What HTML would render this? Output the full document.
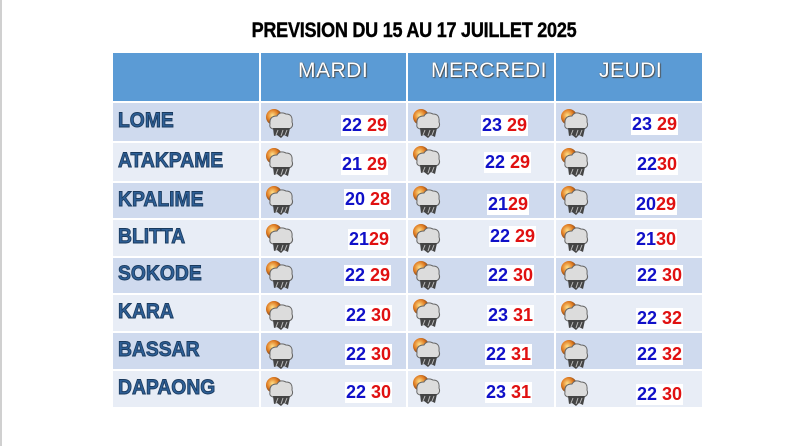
<!DOCTYPE html>
<html><head><meta charset="utf-8"><style>
body{margin:0;width:800px;height:446px;background:#fff;position:relative;overflow:hidden;font-family:"Liberation Sans",sans-serif}
.edge{position:absolute;left:0;top:0;width:2px;height:446px;background:#d0d0d0}
.title{position:absolute;left:0;width:828px;top:19px;text-align:center;font-weight:bold;font-size:21px;color:#000;transform:scaleX(0.86);transform-origin:414px 0;letter-spacing:-0.3px;-webkit-text-stroke:0.4px #000}
.hdr{position:absolute;top:53px;height:49px;background:#5b9bd5}
.hl{position:absolute;top:59px;font-size:21px;color:#fff;text-shadow:0 0 1px #333,1px 1px 1px #555;letter-spacing:0.5px}
.row{position:absolute;left:113px;width:589px}
.vl{position:absolute;top:53px;height:354px;width:2px;background:#fff}
.hz{position:absolute;left:113px;width:589px;height:2px;background:#fff}
.city{position:absolute;left:118px;font-weight:bold;font-size:21px;color:#2e5f96;-webkit-text-stroke:0.9px #1a3a5e;transform:scaleX(0.92);transform-origin:0 0}
.t{position:absolute;font-weight:bold;font-size:18px;background:#fff;padding:0 1px;line-height:21px}
.t b{color:#1010c8}.t i{font-style:normal;color:#e01010}
svg.ic{position:absolute;width:32px;height:32px}
</style></head><body>
<div class="edge"></div>
<div class="title">PREVISION DU 15 AU 17 JUILLET 2025</div>
<div class="hdr" style="left:113px;width:589px"></div>
<div class="hl" style="left:298px">MARDI</div>
<div class="hl" style="left:431px">MERCREDI</div>
<div class="hl" style="left:599px">JEUDI</div>
<div class="row" style="top:102px;height:40px;background:#cfdaee"></div>
<div class="row" style="top:142px;height:40px;background:#e8edf6"></div>
<div class="row" style="top:182px;height:37px;background:#cfdaee"></div>
<div class="row" style="top:219px;height:38px;background:#e8edf6"></div>
<div class="row" style="top:257px;height:37px;background:#cfdaee"></div>
<div class="row" style="top:294px;height:38px;background:#e8edf6"></div>
<div class="row" style="top:332px;height:38px;background:#cfdaee"></div>
<div class="row" style="top:370px;height:37px;background:#e8edf6"></div>
<div class="hz" style="top:101px"></div><div class="hz" style="top:141px"></div><div class="hz" style="top:181px"></div><div class="hz" style="top:218px"></div><div class="hz" style="top:256px"></div><div class="hz" style="top:293px"></div><div class="hz" style="top:331px"></div><div class="hz" style="top:369px"></div>
<div class="vl" style="left:259px"></div><div class="vl" style="left:406px"></div><div class="vl" style="left:554px"></div>
<svg width="0" height="0" style="position:absolute"><defs>
<radialGradient id="sun" cx="0.4" cy="0.4" r="0.6"><stop offset="0" stop-color="#ffe08a"/><stop offset="0.6" stop-color="#e07a20"/><stop offset="1" stop-color="#6a3a1a"/></radialGradient>
<g id="icon"><circle cx="10" cy="10" r="8" fill="url(#sun)"/><path d="M6 17 Q5 9 13 9 Q16 4 22 7 Q29 7 28 15 Q30 20 25 22 L9 22 Q5 21 6 17Z" fill="#dcdcdc" stroke="#666" stroke-width="1"/><path d="M9 21 L26 21 L24 30 L20 28 L17 31 L13 28 L10 29Z" fill="#444"/><path d="M14 23 L12 28 M19 23 L17 29 M23 23 L21 28" stroke="#bbb" stroke-width="1"/></g>
</defs></svg>
<div class="city" style="top:109px">LOME</div>
<div class="city" style="top:149px">ATAKPAME</div>
<div class="city" style="top:188px">KPALIME</div>
<div class="city" style="top:225px">BLITTA</div>
<div class="city" style="top:262px">SOKODE</div>
<div class="city" style="top:300px">KARA</div>
<div class="city" style="top:338px">BASSAR</div>
<div class="city" style="top:376px">DAPAONG</div>
<svg class="ic" style="left:264px;top:107px"><use href="#icon"/></svg><svg class="ic" style="left:411px;top:107px"><use href="#icon"/></svg><svg class="ic" style="left:559px;top:107px"><use href="#icon"/></svg>
<svg class="ic" style="left:264px;top:146px"><use href="#icon"/></svg><svg class="ic" style="left:411px;top:144px"><use href="#icon"/></svg><svg class="ic" style="left:559px;top:146px"><use href="#icon"/></svg>
<svg class="ic" style="left:264px;top:184px"><use href="#icon"/></svg><svg class="ic" style="left:411px;top:184px"><use href="#icon"/></svg><svg class="ic" style="left:559px;top:184px"><use href="#icon"/></svg>
<svg class="ic" style="left:264px;top:222px"><use href="#icon"/></svg><svg class="ic" style="left:411px;top:222px"><use href="#icon"/></svg><svg class="ic" style="left:559px;top:222px"><use href="#icon"/></svg>
<svg class="ic" style="left:264px;top:259px"><use href="#icon"/></svg><svg class="ic" style="left:411px;top:259px"><use href="#icon"/></svg><svg class="ic" style="left:559px;top:259px"><use href="#icon"/></svg>
<svg class="ic" style="left:264px;top:299px"><use href="#icon"/></svg><svg class="ic" style="left:411px;top:297px"><use href="#icon"/></svg><svg class="ic" style="left:559px;top:299px"><use href="#icon"/></svg>
<svg class="ic" style="left:264px;top:338px"><use href="#icon"/></svg><svg class="ic" style="left:411px;top:336px"><use href="#icon"/></svg><svg class="ic" style="left:559px;top:338px"><use href="#icon"/></svg>
<svg class="ic" style="left:264px;top:375px"><use href="#icon"/></svg><svg class="ic" style="left:411px;top:373px"><use href="#icon"/></svg><svg class="ic" style="left:559px;top:375px"><use href="#icon"/></svg>
<div class="t" style="left:341px;top:115px"><b>22</b> <i>29</i></div>
<div class="t" style="left:481px;top:115px"><b>23</b> <i>29</i></div>
<div class="t" style="left:631px;top:114px"><b>23</b> <i>29</i></div>
<div class="t" style="left:341px;top:154px"><b>21</b> <i>29</i></div>
<div class="t" style="left:484px;top:152px"><b>22</b> <i>29</i></div>
<div class="t" style="left:636px;top:154px"><b>22</b><i>30</i></div>
<div class="t" style="left:344px;top:189px"><b>20</b> <i>28</i></div>
<div class="t" style="left:487px;top:194px"><b>21</b><i>29</i></div>
<div class="t" style="left:635px;top:194px"><b>20</b><i>29</i></div>
<div class="t" style="left:348px;top:229px"><b>21</b><i>29</i></div>
<div class="t" style="left:489px;top:226px"><b>22</b> <i>29</i></div>
<div class="t" style="left:635px;top:229px"><b>21</b><i>30</i></div>
<div class="t" style="left:344px;top:265px"><b>22</b> <i>29</i></div>
<div class="t" style="left:487px;top:265px"><b>22</b> <i>30</i></div>
<div class="t" style="left:636px;top:265px"><b>22</b> <i>30</i></div>
<div class="t" style="left:345px;top:305px"><b>22</b>&nbsp;<i>30</i></div>
<div class="t" style="left:487px;top:305px"><b>23</b> <i>31</i></div>
<div class="t" style="left:636px;top:308px"><b>22</b> <i>32</i></div>
<div class="t" style="left:345px;top:344px"><b>22</b> <i>30</i></div>
<div class="t" style="left:485px;top:344px"><b>22</b> <i>31</i></div>
<div class="t" style="left:636px;top:344px"><b>22</b> <i>32</i></div>
<div class="t" style="left:345px;top:382px"><b>22</b>&nbsp;<i>30</i></div>
<div class="t" style="left:485px;top:382px"><b>23</b> <i>31</i></div>
<div class="t" style="left:636px;top:384px"><b>22</b>&nbsp;<i>30</i></div>
</body></html>
